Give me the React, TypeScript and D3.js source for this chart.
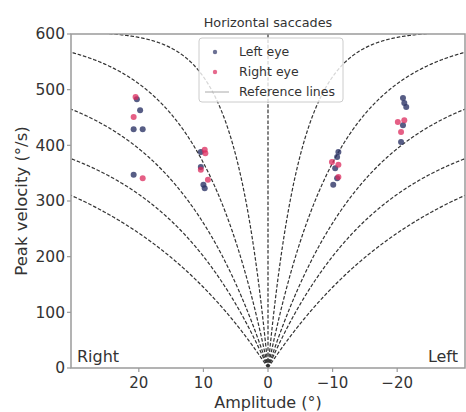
import React from "react";
import * as d3 from "d3";

// Saccade measurements: amplitude (deg, positive = rightward) and peak velocity (deg/s)
const leftEyeAmp = [20.3, 19.8, 20.8, 19.4, 20.8, 10.4, 10.4, 10.0, 9.8, -10.9, -10.7, -10.4, -10.7, -10.1, -20.9, -21.1, -21.4, -20.9, -20.6];
const leftEyeVel = [483, 463, 429, 429, 347, 388, 361, 329, 323, 388, 379, 359, 341, 329, 485, 476, 469, 436, 406];
const rightEyeAmp = [20.5, 20.8, 19.4, 9.8, 9.7, 10.4, 9.3, -9.9, -10.9, -10.9, -20.1, -21.1, -20.6];
const rightEyeVel = [487, 451, 341, 392, 386, 356, 338, 370, 365, 343, 442, 445, 424];

// Main-sequence reference curves V = vmax * (1 - exp(-|A| / c))
const refVmax = [440, 451, 535, 600, 605];
const refC = [25, 17, 15, 10.5, 5];

const yTicks = [0, 100, 200, 300, 400, 500, 600];
const xTicks = [20, 10, 0, -10, -20];

const W = 466;
const H = 412;
const L = 71, R = 465, T = 34, B = 368;

export default function App() {
  const x = d3.scaleLinear().domain([30.5, -30.5]).range([L, R]);
  const y = d3.scaleLinear().domain([0, 600]).range([B, T]);

  const samples = d3.range(0, 401).map((i) => (i / 400) * 31);
  const line = d3
    .line<[number, number]>()
    .x((d) => x(d[0]))
    .y((d) => y(d[1]));

  const curves: string[] = [];
  refVmax.forEach((vm, i) => {
    const c = refC[i];
    for (const side of [1, -1]) {
      const pts: [number, number][] = samples.map((a) => [side * a, vm * (1 - Math.exp(-a / c))]);
      curves.push(line(pts) || "");
    }
  });

  const font = "DejaVu Sans, sans-serif";
  const textColor = "#333";
  const spine = "#9a9a9a";
  const dash = "3.6,1.8";
  const leftColor = "#2d3566";
  const rightColor = "#dc2a5c";

  return (
    <svg
      width={W}
      height={H}
      style={{ position: "absolute", left: 0, top: 0, background: "#fff" }}
      fontFamily={font}
    >
      <defs>
        <clipPath id="plotArea">
          <rect x={L} y={T} width={R - L} height={B - T} />
        </clipPath>
      </defs>

      <text x={(L + R) / 2} y={27} textAnchor="middle" fontSize={12.8} fill={textColor}>
        Horizontal saccades
      </text>

      <g clipPath="url(#plotArea)">
        <line x1={x(0)} x2={x(0)} y1={T} y2={B} stroke="#333" strokeWidth={1.2} strokeDasharray={dash} />
        {curves.map((d, i) => (
          <path key={i} d={d} fill="none" stroke="#333" strokeWidth={1.2} strokeDasharray={dash} />
        ))}
        {leftEyeAmp.map((a, i) => (
          <circle key={"l" + i} cx={x(a)} cy={y(leftEyeVel[i])} r={3} fill={leftColor} fillOpacity={0.8} />
        ))}
        {rightEyeAmp.map((a, i) => (
          <circle key={"r" + i} cx={x(a)} cy={y(rightEyeVel[i])} r={3} fill={rightColor} fillOpacity={0.75} />
        ))}
      </g>

      {/* frame */}
      <rect x={L} y={T} width={R - L} height={B - T} fill="none" stroke={spine} strokeWidth={1.5} />

      {/* y axis */}
      {yTicks.map((t) => (
        <g key={"y" + t}>
          <line x1={L - 4} x2={L} y1={y(t)} y2={y(t)} stroke={spine} strokeWidth={1.2} />
          <text x={L - 6} y={y(t)} dy="0.35em" textAnchor="end" fontSize={15.5} fill={textColor}>
            {t}
          </text>
        </g>
      ))}
      <text
        transform={`translate(27,${(T + B) / 2}) rotate(-90)`}
        textAnchor="middle"
        fontSize={16.5}
        fill={textColor}
      >
        Peak velocity (°/s)
      </text>

      {/* x axis */}
      {xTicks.map((t) => (
        <g key={"x" + t}>
          <line x1={x(t)} x2={x(t)} y1={B} y2={B + 4} stroke={spine} strokeWidth={1.2} />
          <text x={x(t)} y={388} textAnchor="middle" fontSize={15} fill={textColor}>
            {t < 0 ? "\u2212" + Math.abs(t) : String(t)}
          </text>
        </g>
      ))}
      <text x={x(0)} y={408} textAnchor="middle" fontSize={16} fill={textColor}>
        Amplitude (°)
      </text>

      <text x={77} y={362} fontSize={16} fill={textColor}>Right</text>
      <text x={458} y={362} textAnchor="end" fontSize={16} fill={textColor}>Left</text>

      {/* legend */}
      <g>
        <rect x={199} y={38} width={144} height={64} rx={3} fill="#fff" fillOpacity={0.8} stroke="#ccc" strokeWidth={1} />
        <circle cx={215} cy={52} r={2.2} fill={leftColor} fillOpacity={0.7} />
        <text x={239} y={52} dy="0.35em" fontSize={12.5} fill={textColor}>Left eye</text>
        <circle cx={215} cy={72} r={2.2} fill={rightColor} fillOpacity={0.7} />
        <text x={239} y={72} dy="0.35em" fontSize={12.5} fill={textColor}>Right eye</text>
        <line x1={205} x2={229} y1={92} y2={92} stroke="#aaa" strokeWidth={1} />
        <text x={239} y={92} dy="0.35em" fontSize={12.5} fill={textColor}>Reference lines</text>
      </g>
    </svg>
  );
}
